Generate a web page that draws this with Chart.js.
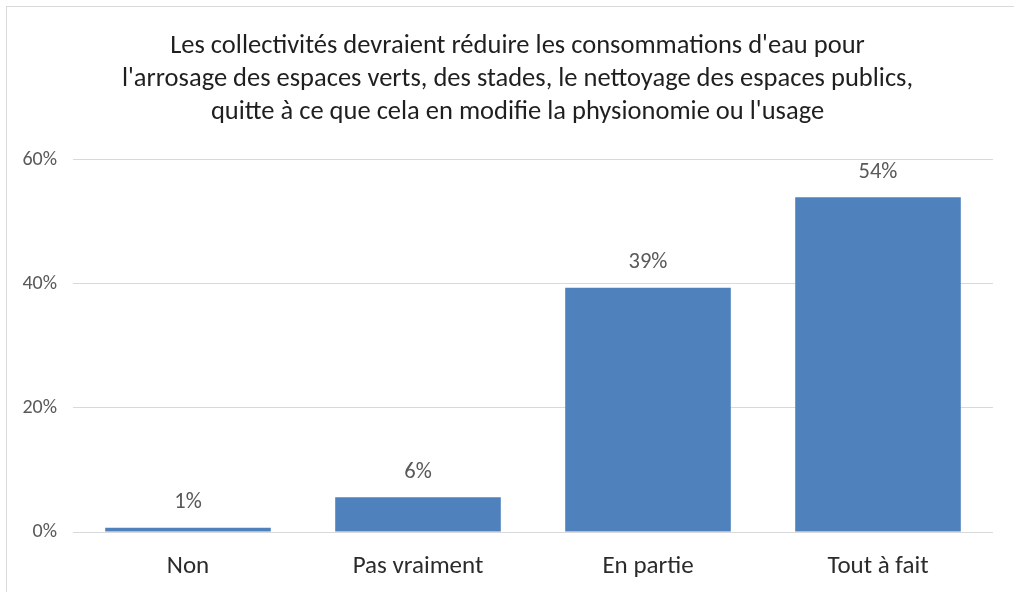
<!DOCTYPE html>
<html>
<head>
<meta charset="utf-8">
<script src="https://cdn.jsdelivr.net/npm/chart.js@4.4.1/dist/chart.umd.min.js"></script>
<style>
  html, body { margin: 0; padding: 0; background: #fff; }
  #wrap { position: relative; width: 1014px; height: 592px; overflow: hidden; }
  #frame { position: absolute; left: 6px; top: 6px; width: 1020px; height: 600px; border: 1px solid #d9d9d9; }
  canvas { position: absolute; left: 0; top: 0; }
</style>
</head>
<body>
<div id="wrap">
  <div id="frame"></div>
  <canvas id="chart" width="1014" height="592"></canvas>
</div>
<script>
// Data
const categories = ['Non', 'Pas vraiment', 'En partie', 'Tout à fait'];
const shares = [0.7, 5.6, 39.4, 54.0];
const shareLabels = ['1%', '6%', '39%', '54%'];
const yTicks = [0, 20, 40, 60];

const titleLines = [
  "Les collectivités devraient réduire les consommations d'eau pour",
  "l'arrosage des espaces verts, des stades, le nettoyage des espaces publics,",
  "quitte à ce que cela en modifie la physionomie ou l'usage"
];

const FONT = 'Carlito, Lato, "Open Sans", sans-serif';

// draws the value above each bar, positioned from the bar elements
const valueLabels = {
  id: 'valueLabels',
  afterDatasetsDraw(chart) {
    const ctx = chart.ctx;
    const meta = chart.getDatasetMeta(0);
    ctx.save();
    ctx.font = '22.5px ' + FONT;
    ctx.fillStyle = '#595959';
    ctx.textAlign = 'center';
    ctx.textBaseline = 'middle';
    meta.data.forEach((bar, i) => {
      ctx.fillText(shareLabels[i], bar.x, bar.y - 25);
    });
    ctx.restore();
  }
};

new Chart(document.getElementById('chart'), {
  type: 'bar',
  data: {
    labels: categories,
    datasets: [{
      data: shares,
      backgroundColor: '#4F81BD',
      borderWidth: 0,
      barPercentage: 0.72,
      categoryPercentage: 1.0
    }]
  },
  options: {
    responsive: false,
    animation: false,
    layout: { padding: { left: 21, right: 0, top: 8, bottom: 0 } },
    plugins: {
      legend: { display: false },
      tooltip: { enabled: false },
      title: {
        display: true,
        text: titleLines,
        color: '#1f1f1f',
        font: { family: FONT, size: 26.5, weight: 'normal', lineHeight: 1.245 },
        padding: { top: 22, bottom: 31 }
      }
    },
    scales: {
      x: {
        grid: { display: false, drawTicks: false },
        border: { display: false },
        ticks: { color: '#2b2b2b', font: { family: FONT, size: 25 }, padding: 20 },
        afterFit(scale) { scale.height = 60; }
      },
      y: {
        min: 0,
        max: 60,
        afterBuildTicks(scale) { scale.ticks = yTicks.map(v => ({ value: v })); },
        grid: { color: '#d9d9d9', drawTicks: false },
        border: { display: false },
        ticks: {
          color: '#595959',
          font: { family: FONT, size: 20 },
          padding: 16,
          callback: v => v + '%'
        },
        afterFit(scale) { scale.width = 52; }
      },
      // empty right-hand margin so the plot ends where the original does
      yRight: {
        position: 'right',
        grid: { display: false, drawTicks: false },
        border: { display: false },
        ticks: { display: false },
        afterFit(scale) { scale.width = 21; }
      }
    }
  },
  plugins: [valueLabels]
});
</script>
</body>
</html>
